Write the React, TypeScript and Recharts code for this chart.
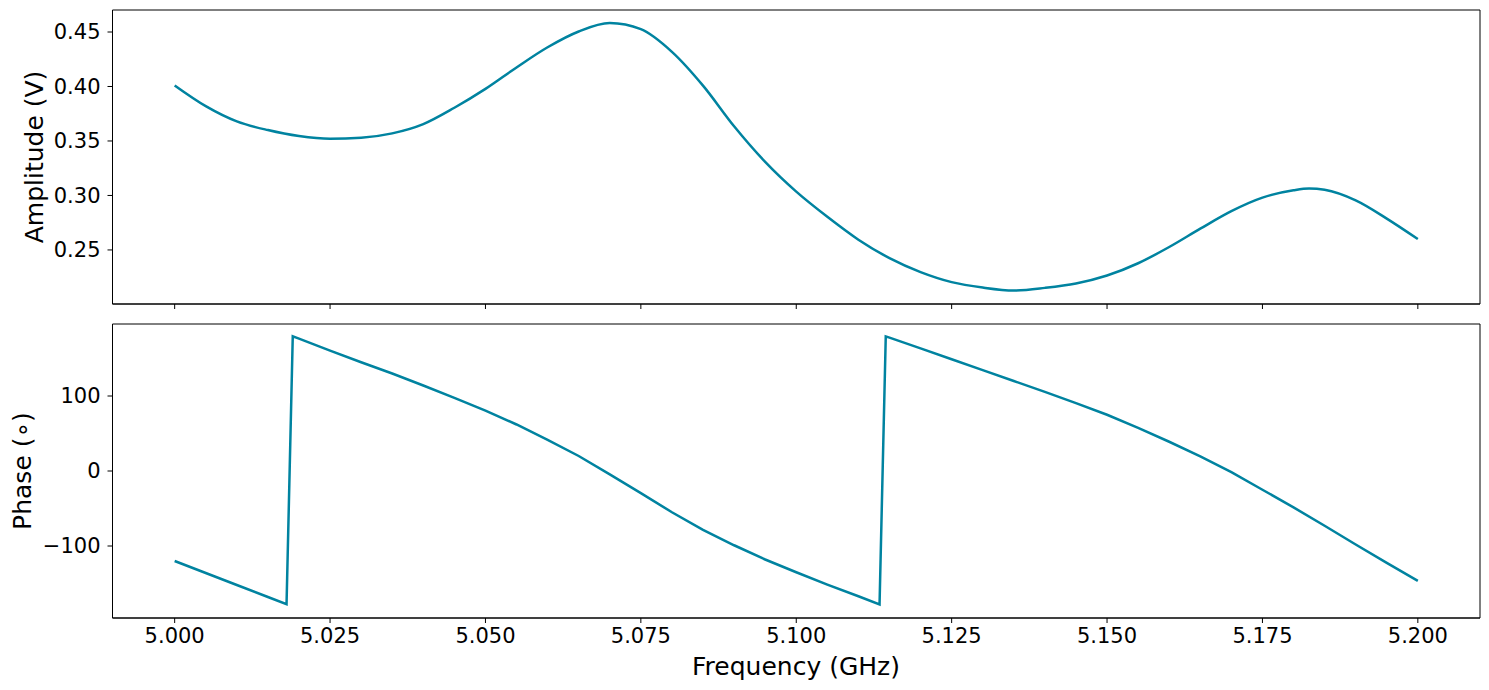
import React from "react";
import { LineChart, Line, XAxis, YAxis, ReferenceArea, Label } from "recharts";

const ampFreq = [
  5.0, 5.005, 5.01, 5.015, 5.02, 5.025, 5.03, 5.035, 5.04, 5.045, 5.05, 5.055, 5.06, 5.065,
  5.07, 5.075, 5.08, 5.085, 5.09, 5.095, 5.1, 5.105, 5.11, 5.115, 5.12, 5.125, 5.13, 5.135,
  5.14, 5.145, 5.15, 5.155, 5.16, 5.165, 5.17, 5.175, 5.18, 5.1825, 5.185, 5.19, 5.195, 5.2,
];
const amplitude = [
  0.401, 0.382, 0.368, 0.36, 0.3545, 0.352, 0.353, 0.357, 0.3655, 0.3805, 0.3978, 0.4175,
  0.436, 0.4505, 0.4582, 0.4526, 0.4318, 0.4008, 0.3635, 0.3308, 0.3035, 0.2804, 0.2594,
  0.2425, 0.2297, 0.2205, 0.2155, 0.2128, 0.2152, 0.2192, 0.2265, 0.2378, 0.2527, 0.2695,
  0.2856, 0.298, 0.3048, 0.3064, 0.3052, 0.2955, 0.2788, 0.26,
];

const phaseFreq = [
  5.0, 5.005, 5.01, 5.015, 5.018, 5.019, 5.02, 5.025, 5.03, 5.035, 5.04, 5.045, 5.05, 5.055,
  5.06, 5.065, 5.07, 5.075, 5.08, 5.085, 5.09, 5.095, 5.1, 5.105, 5.11, 5.1134, 5.1144, 5.115,
  5.12, 5.125, 5.13, 5.135, 5.14, 5.145, 5.15, 5.155, 5.16, 5.165, 5.17, 5.175, 5.18, 5.185,
  5.19, 5.195, 5.2,
];
const phase = [
  -120, -136, -152, -168, -177.5, 179.5, 176.5, 160.5, 145, 130, 114, 97.5, 80.5, 62, 41.5,
  20, -4.5, -29.5, -55, -78.5, -99, -118, -135, -151.5, -167, -178, 179.5, 177.8, 163.5,
  149, 134.5, 120, 105.5, 90.5, 75, 57.5, 39, 19.5, -1.5, -25, -48.5, -73, -98, -122.5,
  -146.5,
];

const freqTicks = [5.0, 5.025, 5.05, 5.075, 5.1, 5.125, 5.15, 5.175, 5.2];
const ampTicks = [0.25, 0.3, 0.35, 0.4, 0.45];
const phaseTicks = [-100, 0, 100];

const ampData = ampFreq.map((f, i) => ({ f, v: amplitude[i] }));
const phaseData = phaseFreq.map((f, i) => ({ f, v: phase[i] }));

const FONT = "DejaVu Sans, Verdana, sans-serif";
const LINE = "#0083A0";
const X_DOMAIN: [number, number] = [4.99, 5.21];
const AMP_DOMAIN: [number, number] = [0.2004, 0.4702];
const PHASE_DOMAIN: [number, number] = [-196, 196];

const tickStyle = { fontSize: 21, fill: "#000", fontFamily: FONT };

const fmtMinus = (v: number) => (v < 0 ? "\u2212" + Math.abs(v).toFixed(0) : v.toFixed(0));

function yTitle(text: string, x: number, y: number) {
  return () => (
    <text
      x={x}
      y={y}
      transform={`rotate(-90, ${x}, ${y})`}
      textAnchor="middle"
      dominantBaseline="central"
      fontSize={25}
      fontFamily={FONT}
      fill="#000"
    >
      {text}
    </text>
  );
}

export default function App() {
  return (
    <div style={{ position: "absolute", left: 0, top: 0, width: 1489, height: 690, background: "#fff" }}>
      <div style={{ position: "absolute", left: 0, top: 0 }}>
        <LineChart width={1489} height={310} data={ampData} margin={{ top: 10, right: 9, bottom: 0, left: 0 }}>
          <XAxis
            dataKey="f"
            type="number"
            domain={X_DOMAIN}
            ticks={freqTicks}
            allowDataOverflow
            height={6}
            tick={{ fontSize: 1, fill: "none" }}
            tickFormatter={() => ""}
            tickSize={5}
            stroke="#000"
            tickLine={{ stroke: "#000" }}
            axisLine={{ stroke: "#000" }}
          />
          <YAxis
            type="number"
            domain={AMP_DOMAIN}
            ticks={ampTicks}
            allowDataOverflow
            width={112.5}
            tickSize={5}
            tickMargin={7}
            tick={tickStyle}
            tickFormatter={(v: number) => v.toFixed(2)}
            stroke="#000"
            tickLine={{ stroke: "#000" }}
            axisLine={{ stroke: "#000" }}
          >
            <Label content={yTitle("Amplitude (V)", 34, 157)} />
          </YAxis>
          <ReferenceArea
            x1={X_DOMAIN[0]}
            x2={X_DOMAIN[1]}
            y1={AMP_DOMAIN[0]}
            y2={AMP_DOMAIN[1]}
            fill="none"
            fillOpacity={0}
            stroke="#000"
            strokeOpacity={1}
            strokeWidth={1}
          />
          <Line
            dataKey="v"
            type="monotone"
            stroke={LINE}
            strokeWidth={2.5}
            dot={false}
            isAnimationActive={false}
          />
        </LineChart>
      </div>
      <div style={{ position: "absolute", left: 0, top: 310 }}>
        <LineChart width={1489} height={380} data={phaseData} margin={{ top: 14, right: 9, bottom: 0, left: 0 }}>
          <XAxis
            dataKey="f"
            type="number"
            domain={X_DOMAIN}
            ticks={freqTicks}
            allowDataOverflow
            height={72}
            tickSize={5}
            tickMargin={5}
            tick={tickStyle}
            tickFormatter={(v: number) => v.toFixed(3)}
            stroke="#000"
            tickLine={{ stroke: "#000" }}
            axisLine={{ stroke: "#000" }}
          >
            <Label
              content={() => (
                <text
                  x={796}
                  y={356}
                  textAnchor="middle"
                  dominantBaseline="central"
                  fontSize={25}
                  fontFamily={FONT}
                  fill="#000"
                >
                  Frequency (GHz)
                </text>
              )}
            />
          </XAxis>
          <YAxis
            type="number"
            domain={PHASE_DOMAIN}
            ticks={phaseTicks}
            allowDataOverflow
            width={112.5}
            tickSize={5}
            tickMargin={7}
            tick={tickStyle}
            tickFormatter={fmtMinus}
            stroke="#000"
            tickLine={{ stroke: "#000" }}
            axisLine={{ stroke: "#000" }}
          >
            <Label content={yTitle("Phase (\u2218)", 22, 161)} />
          </YAxis>
          <ReferenceArea
            x1={X_DOMAIN[0]}
            x2={X_DOMAIN[1]}
            y1={PHASE_DOMAIN[0]}
            y2={PHASE_DOMAIN[1]}
            fill="none"
            fillOpacity={0}
            stroke="#000"
            strokeOpacity={1}
            strokeWidth={1}
          />
          <Line
            dataKey="v"
            type="linear"
            stroke={LINE}
            strokeWidth={2.5}
            dot={false}
            isAnimationActive={false}
          />
        </LineChart>
      </div>
    </div>
  );
}
